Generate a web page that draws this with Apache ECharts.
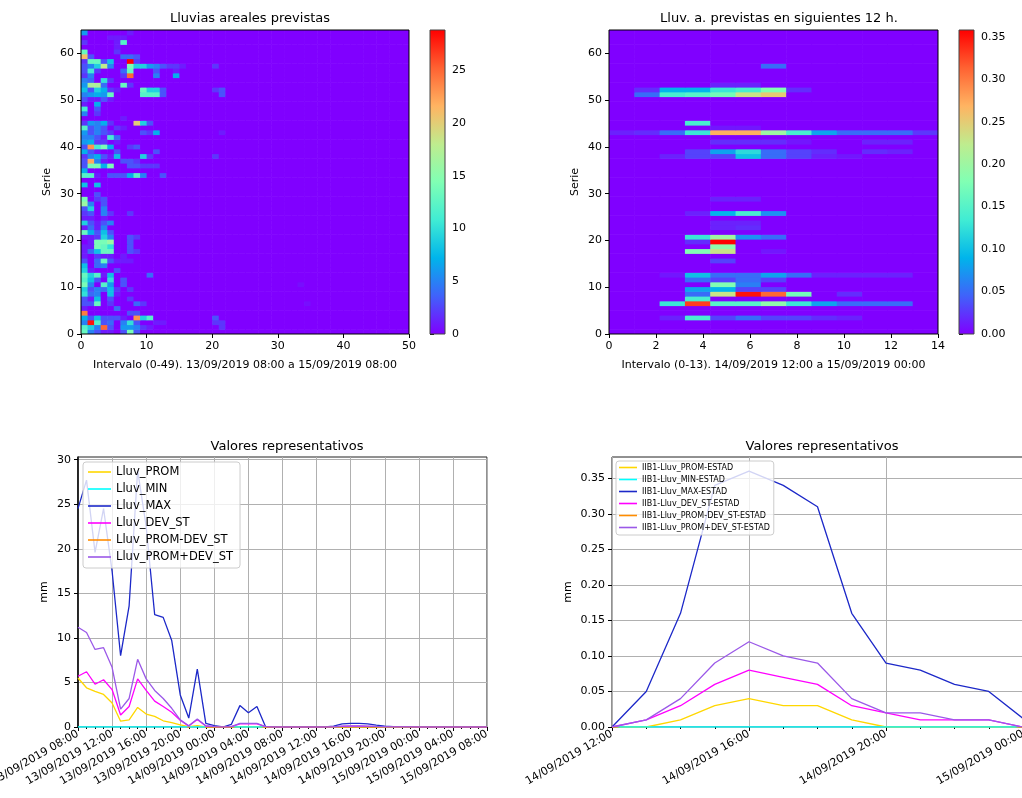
<!DOCTYPE html>
<html>
<head>
<meta charset="utf-8">
<script src="https://cdn.jsdelivr.net/npm/echarts@6/dist/echarts.min.js"></script>
<style>
html, body { margin: 0; padding: 0; background: #fff; }
#chart { width: 1022px; height: 798px; }
</style>
</head>
<body>
<div id="chart"></div>
<script>
// ---------- data ----------
// heatmap cells that are not zero: [interval column, serie row, value]
const areaCells = [
  [0,63,6],[7,63,1],
  [4,62,1],[5,62,1],[6,62,1],
  [0,61,2],[5,61,1],[6,61,12],
  [5,60,1],
  [0,59,13],[5,59,2],
  [0,58,21],[1,58,3],[6,58,4],[7,58,4],[8,58,3],
  [0,57,2],[1,57,13],[2,57,13],[3,57,3],[4,57,8],[7,57,28.8],[8,57,2],
  [0,56,3],[1,56,5],[2,56,9],[3,56,18],[4,56,5],[7,56,14],[8,56,9],[9,56,9],[10,56,6],[11,56,5],[12,56,3],[13,56,2],[14,56,2],[15,56,1],[20,56,2],
  [0,55,3],[1,55,11],[2,55,2],[6,55,4],[7,55,13],[11,55,3],[14,55,1],
  [0,54,2],[1,54,5],[6,54,2],[7,54,25],[11,54,5],[14,54,7],
  [0,53,5],[1,53,4],[3,53,10],[4,53,2],
  [0,52,6],[1,52,17],[2,52,17],[3,52,4],[6,52,13],[7,52,2],
  [0,51,8],[1,51,3],[2,51,9],[3,51,7],[4,51,2],[5,51,1],[9,51,13],[10,51,9],[11,51,9],[12,51,3],[20,51,2],[21,51,3],
  [0,50,5],[1,50,6],[2,50,7],[3,50,6],[4,50,13],[9,50,12],[10,50,12],[11,50,12],[12,50,3],[21,50,3],
  [0,49,3],[1,49,1],[2,49,1],[3,49,3],[4,49,1],
  [0,48,1],[2,48,7],
  [0,47,11],[2,47,3],
  [0,46,5],[2,46,2],
  [6,45,1],
  [0,44,2],[1,44,6],[2,44,5],[3,44,7],[4,44,2],[8,44,20],[9,44,9],[10,44,3],
  [0,43,12],[1,43,3],[2,43,5],[3,43,3],[5,43,2],[6,43,1],
  [0,42,6],[1,42,3],[2,42,5],[3,42,3],[4,42,2],[9,42,3],[10,42,2],[11,42,7],[21,42,1],
  [0,41,5],[1,41,5],[2,41,3],[3,41,1],[4,41,11],[5,41,4],
  [0,40,6],[1,40,7],[2,40,2],[3,40,2],[5,40,1],
  [0,39,3],[1,39,23],[2,39,11],[3,39,14],[4,39,7],[7,39,2],[8,39,3],
  [0,38,7],[1,38,3],[2,38,1],[5,38,3],[11,38,3],
  [0,37,2],[1,37,5],[2,37,7],[3,37,3],[4,37,1],[5,37,8],[9,37,9],[10,37,2],[20,37,2],
  [0,36,3],[1,36,22],[2,36,5],[3,36,1],[6,36,3],[7,36,3],[8,36,2],
  [0,35,3],[1,35,14],[2,35,14],[3,35,7],[4,35,14],[7,35,3],[8,35,3],[9,35,2],[10,35,2],[11,35,2],
  [0,34,7],
  [0,33,12],[1,33,12],[2,33,1],[4,33,3],[5,33,3],[6,33,3],[7,33,7],[8,33,12],[9,33,5],[12,33,3],
  [0,31,8],[2,31,8],
  [2,29,3],
  [0,28,14],[2,28,2],[3,28,3],
  [0,27,16],[1,27,5],[3,27,3],
  [0,26,3],[1,26,9],[3,26,5],
  [0,25,2],[1,25,3],[3,25,5],[4,25,2],[7,25,2],
  [0,24,1],[1,24,1],[3,24,1],
  [0,23,9],[1,23,3],[2,23,1],[3,23,3],[4,23,5],
  [0,22,1],[1,22,4],[2,22,1],[3,22,5],
  [0,21,13],[1,21,7],[2,21,3],[3,21,8],[4,21,3],
  [0,20,1],[1,20,1],[2,20,2],[3,20,9],[4,20,5],[7,20,3],[8,20,2],
  [1,19,1],[2,19,14],[3,19,14],[4,19,16],[7,19,3],
  [0,18,1],[1,18,1],[2,18,14],[3,18,13],[4,18,10],[7,18,3],
  [0,17,1],[1,17,4],[2,17,8],[3,17,13],[4,17,13],[7,17,3],[8,17,2],
  [0,16,1],[2,16,2],[3,16,1],[4,16,1],[6,16,1],
  [0,15,3],[2,15,4],[3,15,13],[4,15,3],[5,15,1],[6,15,1],[7,15,1],
  [0,14,8],[2,14,4],[3,14,5],
  [0,13,9],[1,13,1],[5,13,3],
  [0,12,13],[1,12,9],[2,12,12],[3,12,1],[4,12,8],[10,12,4],
  [0,11,12],[1,11,8],[2,11,3],[4,11,10],[6,11,3],
  [0,10,14],[1,10,5],[3,10,12],[4,10,6],[6,10,3],[33,10,0.5],
  [0,9,9],[1,9,3],[2,9,5],[3,9,4],[4,9,8],[5,9,2],[7,9,2],
  [0,8,10],[1,8,4],[2,8,5],[4,8,8],[5,8,1],
  [0,7,3],[1,7,1],[2,7,8],[4,7,3],[7,7,2],
  [0,6,3],[1,6,3],[2,6,13],[4,6,2],[8,6,4],[9,6,2],[34,6,0.5],
  [0,5,1],[5,5,4],
  [0,4,24],[7,4,3],[8,4,3],
  [0,3,7],[1,3,3],[2,3,8],[3,3,3],[4,3,3],[5,3,3],[6,3,1],[8,3,23],[9,3,9],[10,3,12],[20,3,3],
  [0,2,5],[1,2,28],[2,2,12],[3,2,3],[4,2,4],[6,2,5],[7,2,10],[8,2,3],[11,2,1],[12,2,1],[20,2,2],[21,2,2],
  [0,1,12],[1,1,9],[2,1,5],[3,1,25],[4,1,3],[6,1,6],[7,1,6],[8,1,5],[9,1,2],[10,1,1],[21,1,2],
  [0,0,13],[1,0,5],[2,0,3],[3,0,1],[4,0,1],[6,0,3],[7,0,14],[8,0,3]
];
const next12Cells = [
  [6,56,0.05],
  [4,52,0.015],[5,52,0.015],
  [1,51,0.02],[2,51,0.09],[3,51,0.09],[4,51,0.13],[5,51,0.14],[6,51,0.18],[7,51,0.02],
  [1,50,0.05],[2,50,0.14],[3,50,0.15],[4,50,0.17],[5,50,0.23],[6,50,0.25],
  [3,44,0.14],
  [4,43,0.01],[5,43,0.01],
  [0,42,0.015],[1,42,0.02],[2,42,0.05],[3,42,0.13],[4,42,0.27],[5,42,0.27],[6,42,0.2],[7,42,0.14],[8,42,0.08],[9,42,0.05],[10,42,0.05],[11,42,0.05],[12,42,0.025],
  [4,40,0.02],[5,40,0.02],[6,40,0.02],[7,40,0.01],[10,40,0.015],[11,40,0.015],
  [3,38,0.03],[4,38,0.08],[5,38,0.12],[6,38,0.05],[7,38,0.03],[8,38,0.02],[10,38,0.02],[11,38,0.015],
  [2,37,0.015],[3,37,0.03],[4,37,0.03],[5,37,0.1],[6,37,0.05],[7,37,0.03],[8,37,0.015],[9,37,0.01],
  [4,28,0.015],[5,28,0.015],
  [3,25,0.015],[4,25,0.09],[5,25,0.14],[6,25,0.07],
  [4,23,0.015],[5,23,0.015],
  [4,22,0.015],[5,22,0.02],
  [3,20,0.13],[4,20,0.2],[5,20,0.07],[6,20,0.05],
  [3,19,0.02],[4,19,0.36],
  [4,18,0.19],
  [3,17,0.18],[4,17,0.23],[6,17,0.01],
  [4,15,0.03],
  [2,12,0.01],[3,12,0.1],[4,12,0.05],[5,12,0.05],[6,12,0.08],[7,12,0.05],[8,12,0.015],[9,12,0.015],[10,12,0.015],[11,12,0.015],
  [3,11,0.05],[4,11,0.03],[5,11,0.05],[6,11,0.03],
  [4,10,0.18],[5,10,0.06],
  [3,9,0.08],[4,9,0.09],[5,9,0.03],[6,9,0.03],
  [3,8,0.05],[4,8,0.23],[5,8,0.35],[6,8,0.31],[7,8,0.17],[9,8,0.02],
  [3,7,0.14],
  [2,6,0.13],[3,6,0.33],[4,6,0.15],[5,6,0.15],[6,6,0.19],[7,6,0.13],[8,6,0.08],[9,6,0.05],[10,6,0.05],[11,6,0.05],
  [2,3,0.015],[3,3,0.14],[4,3,0.03],[5,3,0.05],[6,3,0.03],[7,3,0.03],[8,3,0.02],[9,3,0.015]
];
const areaColsCount = 50, areaRowsCount = 64;
const next12ColsCount = 13, next12RowsCount = 64;
const areaMax = 28.8;
const next12Max = 0.358;

// hourly series, 13/09/2019 08:00 .. 15/09/2019 08:00
const lluvProm = [5.5,4.4,4.0,3.65,2.7,0.65,0.8,2.2,1.45,1.2,0.7,0.5,0.25,0.05,0.15,0.02,0,0,0,0.05,0.05,0.05,0,
  0,0,0,0,0,0,0, 0.01,0.03,0.03,0.03,0.03,0.01,0.01,0,0,0, 0,0,0,0,0,0,0,0,0];
const lluvMin = [0,0,0,0,0,0,0,0,0,0,0,0,0,0,0,0,0,0,0,0,0,0,0,0,0,0,0,0,0,0,0,0,0,0,0,0,0,0,0,0,0,0,0,0,0,0,0,0,0];
const lluvMax = [24.5,27.7,19.6,24.5,17.5,8.0,13.6,28.8,22.5,12.6,12.3,9.7,3.6,1.0,6.5,0.4,0.15,0,0.3,2.4,1.6,2.3,0.05,
  0,0,0,0,0,0,0, 0.1,0.35,0.4,0.4,0.35,0.2,0.1,0.05,0.05,0.02, 0,0,0,0,0,0,0,0,0];
const lluvDev = [5.7,6.2,4.8,5.3,4.2,1.35,2.3,5.4,4.1,2.9,2.3,1.65,0.75,0.1,0.85,0.1,0.03,0,0.05,0.35,0.35,0.35,0.05,
  0,0,0,0,0,0,0, 0.02,0.07,0.09,0.09,0.07,0.05,0.03,0.02,0.01,0.01, 0,0,0,0,0,0,0,0,0];
const lluvPromMinusDev = [-0.2,-1.8,-0.8,-1.65,-1.5,-0.7,-1.5,-3.2,-2.65,-1.7,-1.6,-1.15,-0.5,-0.05,-0.7,-0.08,-0.03,0,-0.05,-0.3,-0.3,-0.3,-0.05,
  0,0,0,0,0,0,0, -0.01,-0.04,-0.06,-0.06,-0.04,-0.04,-0.02,-0.02,-0.01,-0.01, 0,0,0,0,0,0,0,0,0];
const lluvPromPlusDev = [11.2,10.6,8.7,8.9,6.7,2.0,3.2,7.6,5.4,4.1,3.2,2.1,0.8,0.15,0.9,0.15,0.05,0,0.05,0.4,0.4,0.4,0.05,
  0,0,0,0,0,0,0, 0.03,0.1,0.12,0.12,0.1,0.06,0.04,0.02,0.02,0.01, 0,0,0,0,0,0,0,0,0];

// hourly series, 14/09/2019 12:00 .. 15/09/2019 00:00
const estProm = [0,0,0.01,0.03,0.04,0.03,0.03,0.01,0,0,0,0,0];
const estMin = [0,0,0,0,0,0,0,0,0,0,0,0,0];
const estMax = [0,0.05,0.16,0.34,0.36,0.34,0.31,0.16,0.09,0.08,0.06,0.05,0.012];
const estDev = [0,0.01,0.03,0.06,0.08,0.07,0.06,0.03,0.02,0.01,0.01,0.01,0];
const estPromMinusDev = [0,-0.01,-0.02,-0.03,-0.04,-0.04,-0.03,-0.02,-0.02,-0.01,-0.01,-0.01,0];
const estPromPlusDev = [0,0.01,0.04,0.09,0.12,0.10,0.09,0.04,0.02,0.02,0.01,0.01,0];

const lineNamesLeft = ['Lluv_PROM','Lluv_MIN','Lluv_MAX','Lluv_DEV_ST','Lluv_PROM-DEV_ST','Lluv_PROM+DEV_ST'];
const lineNamesRight = ['IIB1-Lluv_PROM-ESTAD','IIB1-Lluv_MIN-ESTAD','IIB1-Lluv_MAX-ESTAD','IIB1-Lluv_DEV_ST-ESTAD','IIB1-Lluv_PROM-DEV_ST-ESTAD','IIB1-Lluv_PROM+DEV_ST-ESTAD'];

// tick labels
const serieTicks = [0,10,20,30,40,50,60];
const areaCbTicks = [0,5,10,15,20,25];
const next12CbTicks = [0,0.05,0.1,0.15,0.2,0.25,0.3,0.35];
const mmTicksLeft = [0,5,10,15,20,25,30];
const mmTicksRight = [0,0.05,0.1,0.15,0.2,0.25,0.3,0.35];
const timeLabelsLeft = ['13/09/2019 08:00','13/09/2019 12:00','13/09/2019 16:00','13/09/2019 20:00','14/09/2019 00:00','14/09/2019 04:00','14/09/2019 08:00','14/09/2019 12:00','14/09/2019 16:00','14/09/2019 20:00','15/09/2019 00:00','15/09/2019 04:00','15/09/2019 08:00'];
const timeLabelsRight = ['14/09/2019 12:00','14/09/2019 16:00','14/09/2019 20:00','15/09/2019 00:00'];

// ---------- chart ----------
const rainbow = ['#8000ff','#4062fa','#00b4eb','#40ecd4','#80ffb4','#bfec8e','#ffb462','#ff6232','#ff0000'];
const lineColors = ['#ffd700','#00ffff','#1c28c8','#ff00ff','#ff8c00','#9b59e8'];

function fullGrid(cols, rows, cells) {
  const m = {};
  cells.forEach(c => { m[c[0] + '_' + c[1]] = c[2]; });
  const out = [];
  for (let r = 0; r < rows; r++) {
    for (let c = 0; c < cols; c++) out.push([c, r, m[c + '_' + r] || 0]);
  }
  return out;
}

function cellItem(cw, rh) {
  return function (params, api) {
    const c = api.value(0), r = api.value(1);
    const a = api.coord([c * cw, r * rh]);
    const b = api.coord([(c + 1) * cw, (r + 1) * rh]);
    return {
      type: 'rect',
      shape: { x: a[0], y: b[1], width: b[0] - a[0] + 0.6, height: a[1] - b[1] + 0.6 },
      style: { fill: api.visual('color') }
    };
  };
}

function barItem(params, api) {
  const a = api.coord([0, 0]);
  const b = api.coord([1, api.value(1)]);
  return {
    type: 'rect',
    shape: { x: a[0], y: b[1], width: b[0] - a[0], height: a[1] - b[1] },
    style: {
      fill: {
        type: 'linear', x: 0, y: 1, x2: 0, y2: 0,
        colorStops: rainbow.map((c, i) => ({ offset: i / (rainbow.length - 1), color: c }))
      }
    }
  };
}

const font = 'DejaVu Sans';
const tick = { show: true, length: 4, lineStyle: { color: '#000', width: 1 } };
const label = { color: '#000', fontSize: 11, margin: 7, fontFamily: font };
const nameStyle = { color: '#000', fontSize: 11, fontFamily: font };
const gridLine = { show: true, lineStyle: { color: '#b0b0b0', width: 1 } };

function lineSeries(names, arrays, axis) {
  return arrays.map((arr, i) => ({
    name: names[i],
    type: 'line',
    xAxisIndex: axis,
    yAxisIndex: axis,
    symbol: 'none',
    showSymbol: false,
    clip: true,
    color: lineColors[i],
    lineStyle: { width: 1.3, color: lineColors[i] },
    data: arr.map((v, h) => [h, v])
  }));
}

function legendFor(names, left, top, fontSize, lineHeight, gap, iconW, pad) {
  return {
    data: names,
    orient: 'vertical',
    left: left,
    top: top,
    selectedMode: false,
    icon: 'rect',
    itemWidth: iconW,
    itemHeight: 1.6,
    itemGap: gap,
    padding: pad,
    backgroundColor: 'rgba(255,255,255,0.8)',
    borderColor: '#cccccc',
    borderWidth: 1,
    borderRadius: 3,
    textStyle: { color: '#000', fontSize: fontSize, lineHeight: lineHeight, fontFamily: font }
  };
}

function gridBox(left, top, width, height, extra) {
  return Object.assign({ left: left, top: top, width: width, height: height, containLabel: false, outerBoundsMode: 'none', show: true,
    borderColor: '#000', borderWidth: 1, backgroundColor: 'transparent' }, extra || {});
}

const chart = echarts.init(document.getElementById('chart'));
chart.setOption({
  animation: false,
  textStyle: { fontFamily: font },
  title: [
    { text: 'Lluvias areales previstas', left: 245, top: 7, textAlign: 'center', textStyle: { fontSize: 13, fontWeight: 'normal', color: '#000' } },
    { text: 'Lluv. a. previstas en siguientes 12 h.', left: 774, top: 7, textAlign: 'center', textStyle: { fontSize: 13, fontWeight: 'normal', color: '#000' } },
    { text: 'Valores representativos', left: 282, top: 435, textAlign: 'center', textStyle: { fontSize: 13, fontWeight: 'normal', color: '#000' } },
    { text: 'Valores representativos', left: 817, top: 435, textAlign: 'center', textStyle: { fontSize: 13, fontWeight: 'normal', color: '#000' } }
  ],
  legend: [
    legendFor(lineNamesLeft, 83, 462, 11.5, 14, 3, 23, [3, 7, 4, 5]),
    legendFor(lineNamesRight, 616, 461, 8, 10, 2, 18, [1.5, 4, 2.5, 3])
  ],
  visualMap: [
    { type: 'continuous', show: false, seriesIndex: 0, dimension: 2, min: 0, max: areaMax, inRange: { color: rainbow } },
    { type: 'continuous', show: false, seriesIndex: 2, dimension: 2, min: 0, max: next12Max, inRange: { color: rainbow } }
  ],
  grid: [
    gridBox(81, 30, 328, 304, { z: 5 }),
    gridBox(430, 30, 15, 304, { z: 5, borderColor: '#444' }),
    gridBox(609, 30, 329, 304, { z: 5 }),
    gridBox(959, 30, 15, 304, { z: 5, borderColor: '#444' }),
    gridBox(78, 457, 409, 270, { borderColor: '#222' }),
    gridBox(612, 457, 411, 270, { borderColor: '#222' })
  ],
  xAxis: [
    { gridIndex: 0, type: 'value', min: 0, max: areaColsCount, interval: 10, axisLine: { show: false }, axisTick: tick, axisLabel: label, splitLine: { show: false },
      name: 'Intervalo (0-49). 13/09/2019 08:00 a 15/09/2019 08:00', nameLocation: 'middle', nameGap: 26, nameTextStyle: nameStyle },
    { gridIndex: 1, type: 'value', min: 0, max: 1, show: false },
    { gridIndex: 2, type: 'value', min: 0, max: 14, interval: 2, axisLine: { show: false }, axisTick: tick, axisLabel: label, splitLine: { show: false },
      name: 'Intervalo (0-13). 14/09/2019 12:00 a 15/09/2019 00:00', nameLocation: 'middle', nameGap: 26, nameTextStyle: nameStyle },
    { gridIndex: 3, type: 'value', min: 0, max: 1, show: false },
    { gridIndex: 4, type: 'value', min: 0, max: 48, interval: 4, axisLine: { show: false },
      axisTick: tick, minorTick: { show: true, splitNumber: 4, length: 2, lineStyle: { color: '#000' } },
      axisLabel: Object.assign({}, label, { rotate: 30, margin: 6, formatter: v => timeLabelsLeft[Math.round(v / 4)] || '' }),
      splitLine: gridLine },
    { gridIndex: 5, type: 'value', min: 0, max: 12, interval: 4, axisLine: { show: false },
      axisTick: tick, minorTick: { show: true, splitNumber: 4, length: 2, lineStyle: { color: '#000' } },
      axisLabel: Object.assign({}, label, { rotate: 30, margin: 6, formatter: v => timeLabelsRight[Math.round(v / 4)] || '' }),
      splitLine: gridLine }
  ],
  yAxis: [
    { gridIndex: 0, type: 'value', min: 0, max: 65, interval: 10, axisLine: { show: false },
      axisTick: Object.assign({}, tick, { customValues: serieTicks }), axisLabel: Object.assign({}, label, { customValues: serieTicks }), splitLine: { show: false },
      name: 'Serie', nameLocation: 'middle', nameGap: 28, nameTextStyle: nameStyle },
    { gridIndex: 1, type: 'value', min: 0, max: areaMax, position: 'right', axisLine: { show: false },
      axisTick: Object.assign({}, tick, { customValues: areaCbTicks }), axisLabel: Object.assign({}, label, { customValues: areaCbTicks }), splitLine: { show: false } },
    { gridIndex: 2, type: 'value', min: 0, max: 65, interval: 10, axisLine: { show: false },
      axisTick: Object.assign({}, tick, { customValues: serieTicks }), axisLabel: Object.assign({}, label, { customValues: serieTicks }), splitLine: { show: false },
      name: 'Serie', nameLocation: 'middle', nameGap: 28, nameTextStyle: nameStyle },
    { gridIndex: 3, type: 'value', min: 0, max: next12Max, position: 'right', axisLine: { show: false },
      axisTick: Object.assign({}, tick, { customValues: next12CbTicks }),
      axisLabel: Object.assign({}, label, { customValues: next12CbTicks, formatter: v => v.toFixed(2) }), splitLine: { show: false } },
    { gridIndex: 4, type: 'value', min: 0, max: 30.3, interval: 5, axisLine: { show: true, lineStyle: { color: '#000', width: 1.5 } },
      axisTick: Object.assign({}, tick, { customValues: mmTicksLeft }), axisLabel: Object.assign({}, label, { customValues: mmTicksLeft }), splitLine: gridLine,
      name: 'mm', nameLocation: 'middle', nameGap: 28, nameTextStyle: nameStyle },
    { gridIndex: 5, type: 'value', min: 0, max: 0.38, interval: 0.05, axisLine: { show: false },
      axisTick: Object.assign({}, tick, { customValues: mmTicksRight }),
      axisLabel: Object.assign({}, label, { customValues: mmTicksRight, formatter: v => v.toFixed(2) }), splitLine: gridLine,
      name: 'mm', nameLocation: 'middle', nameGap: 38, nameTextStyle: nameStyle }
  ],
  series: [
    { type: 'custom', xAxisIndex: 0, yAxisIndex: 0, clip: true, progressive: 0, encode: { x: 0, y: 1 },
      renderItem: cellItem(areaColsCount / areaColsCount, 65 / areaRowsCount), data: fullGrid(areaColsCount, areaRowsCount, areaCells) },
    { type: 'custom', xAxisIndex: 1, yAxisIndex: 1, renderItem: barItem, data: [[0, areaMax]] },
    { type: 'custom', xAxisIndex: 2, yAxisIndex: 2, clip: true, progressive: 0, encode: { x: 0, y: 1 },
      renderItem: cellItem(14 / next12ColsCount, 65 / next12RowsCount), data: fullGrid(next12ColsCount, next12RowsCount, next12Cells) },
    { type: 'custom', xAxisIndex: 3, yAxisIndex: 3, renderItem: barItem, data: [[0, next12Max]] }
  ]
    .concat(lineSeries(lineNamesLeft, [lluvProm, lluvMin, lluvMax, lluvDev, lluvPromMinusDev, lluvPromPlusDev], 4))
    .concat(lineSeries(lineNamesRight, [estProm, estMin, estMax, estDev, estPromMinusDev, estPromPlusDev], 5))
});
</script>
</body>
</html>
